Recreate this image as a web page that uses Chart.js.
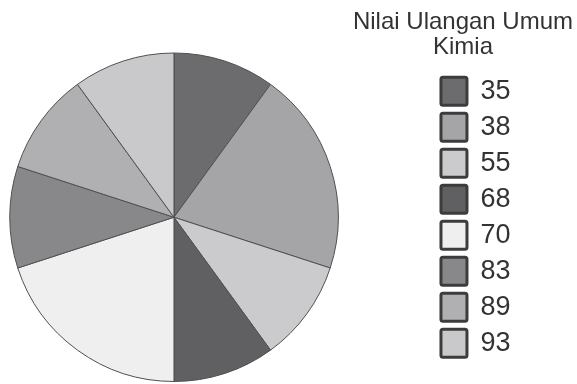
<!DOCTYPE html>
<html>
<head>
<meta charset="utf-8">
<script src="https://cdn.jsdelivr.net/npm/chart.js@4.4.1/dist/chart.umd.min.js"></script>
<style>
    body { margin: 0; background: #fff; }
    #wrap { position: relative; width: 577px; height: 384px; overflow: hidden; }
    /* canvas starts off-page so the pie centre lands where the reference has it */
    #holder { position: absolute; left: -85px; top: 0; width: 662px; height: 384px; }
    #judul {
        position: absolute; left: 343px; top: 8px; width: 240px;
        text-align: center; font: 24px/25px "Liberation Sans", Arial, sans-serif; color: #333;
    }
</style>
</head>
<body>
<div id="wrap">
    <div id="holder"><canvas id="chart"></canvas></div>
    <div id="judul">Nilai Ulangan Umum<br>Kimia</div>
</div>
<script>
const nilai = ['35', '38', '55', '68', '70', '83', '89', '93'];
const jumlahSiswa = [1, 2, 1, 1, 2, 1, 1, 1];
const warna = ['#6c6c6e', '#a5a5a7', '#cbcbcd', '#606062', '#efefef', '#88888a', '#b0b0b2', '#c9c9cb'];

const ctx = document.getElementById('chart').getContext('2d');
new Chart(ctx, {
    type: 'pie',
    data: {
        labels: nilai,
        datasets: [{
            data: jumlahSiswa,
            backgroundColor: warna,
            borderColor: '#505050',
            borderWidth: 1
        }]
    },
    options: {
        responsive: true,
        maintainAspectRatio: false,
        animation: false,
        layout: { padding: { left: 0, right: 56.5, top: 52.5, bottom: 2 } },
        plugins: {
            tooltip: { enabled: false },
            legend: {
                position: 'right',
                labels: {
                    boxWidth: 26,
                    boxHeight: 28,
                    padding: 8,
                    color: '#333',
                    font: { family: '"Liberation Sans", Arial, sans-serif', size: 27 },
                    generateLabels: (chart) => {
                        const items = Chart.overrides.pie.plugins.legend.labels.generateLabels(chart);
                        items.forEach(item => {
                            item.lineWidth = 3;
                            item.strokeStyle = '#3c3c3c';
                            item.borderRadius = 2;
                        });
                        return items;
                    }
                }
            }
        }
    }
});
</script>
</body>
</html>
